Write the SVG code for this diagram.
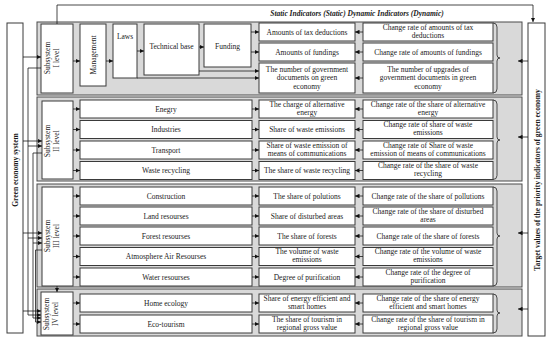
<svg xmlns="http://www.w3.org/2000/svg" width="550" height="342" viewBox="0 0 550 342">
<defs>
<marker id="ah" viewBox="0 0 6 6" refX="6" refY="3" markerWidth="4.5" markerHeight="4.5" orient="auto" markerUnits="userSpaceOnUse"><path d="M0,0 L6,3 L0,6 z" fill="#111"/></marker>
<style>
.frame{fill:#d9d9d9;stroke:#4a4a4a;stroke-width:1}
.box{fill:#fff;stroke:#3a3a3a;stroke-width:1}
.t{font-family:"Liberation Serif","DejaVu Serif",serif;font-size:7.5px;fill:#1a1a1a;text-anchor:middle}
.b{font-weight:bold}
.ln{stroke:#1a1a1a;stroke-width:0.8;fill:none}
.ar{stroke:#1a1a1a;stroke-width:0.8;fill:none;marker-end:url(#ah)}
.br{stroke:#3a3a3a;stroke-width:0.9;fill:none}
</style>
</defs>
<rect width="550" height="342" fill="#fff"/>

<g id="frames">
<rect class="frame" x="37" y="22" width="485" height="73"/>
<rect class="frame" x="37" y="97" width="485" height="84"/>
<rect class="frame" x="37" y="184" width="485" height="103"/>
<rect class="frame" x="37" y="289" width="485" height="47"/>
</g>

<text class="t b" x="357" y="16" font-style="italic">Static Indicators (Static) Dynamic Indicators (Dynamic)</text>

<g id="green"><rect class="box" x="7" y="23" width="16" height="310"/><text class="t b" transform="translate(18,170) rotate(-90)">Green economy system</text></g>
<g id="target"><rect class="box" x="528" y="23" width="17" height="313"/><text class="t b" transform="translate(539.5,180) rotate(-90)">Target values of the priority indicators of green economy</text></g>

<g id="sub1"><rect class="box" x="41" y="24" width="32" height="69"/><text class="t" transform="translate(50,58) rotate(-90)"><tspan x="0" dy="0">Subsystem</tspan><tspan x="0" dy="8.5">I level</tspan></text></g>
<g id="sub2"><rect class="box" x="42" y="101" width="31" height="78"/><text class="t" transform="translate(50,141) rotate(-90)"><tspan x="0" dy="0">Subsystem</tspan><tspan x="0" dy="8.5">II level</tspan></text></g>
<g id="sub3"><rect class="box" x="42" y="187" width="31" height="99"/><text class="t" transform="translate(50,236) rotate(-90)"><tspan x="0" dy="0">Subsystem</tspan><tspan x="0" dy="8.5">III level</tspan></text></g>
<g id="sub4"><rect class="box" x="41" y="292" width="32" height="43"/><text class="t" transform="translate(49,314) rotate(-90)"><tspan x="0" dy="0">Subsystem</tspan><tspan x="0" dy="8.5">IV level</tspan></text></g>

<g id="management"><rect class="box" x="80" y="24" width="26" height="62"/><text class="t" transform="translate(96,55) rotate(-90)">Management</text></g>
<g id="laws"><rect class="box" x="113" y="24" width="24" height="54"/><text class="t" x="125" y="39">Laws</text></g>
<g id="techbase"><rect class="box" x="144" y="24" width="55" height="51"/><text class="t" x="171.5" y="48.5">Technical base</text></g>
<g id="funding"><rect class="box" x="204" y="24" width="47" height="43"/><text class="t" x="227.5" y="48.5">Funding</text></g>

<g id="s1r1"><rect class="box" x="259" y="23" width="96" height="18"/><text class="t" x="307" y="34.5">Amounts of tax deductions</text></g>
<g id="d1r1"><rect class="box" x="363" y="23" width="130" height="18"/><text class="t" x="428" y="29.8">Change rate of amounts of tax<tspan x="428" dy="8">deductions</tspan></text></g>
<g id="s1r2"><rect class="box" x="259" y="43" width="96" height="18"/><text class="t" x="307" y="54.5">Amounts of fundings</text></g>
<g id="d1r2"><rect class="box" x="363" y="43" width="130" height="18"/><text class="t" x="428" y="54.5">Change rate of amounts of fundings</text></g>
<g id="s1r3"><rect class="box" x="259" y="63" width="96" height="30"/><text class="t" x="307" y="71.5">The number of government<tspan x="307" dy="8.6">documents on green</tspan><tspan x="307" dy="8.6">economy</tspan></text></g>
<g id="d1r3"><rect class="box" x="363" y="63" width="130" height="30"/><text class="t" x="428" y="71.5">The number of upgrades of<tspan x="428" dy="8.6">government documents in green</tspan><tspan x="428" dy="8.6">economy</tspan></text></g>

<g id="m2r1"><rect class="box" x="80" y="100" width="172" height="18"/><text class="t" x="166" y="111.5">Enegry</text></g>
<g id="m2r2"><rect class="box" x="80" y="120.5" width="172" height="18"/><text class="t" x="166" y="132">Industries</text></g>
<g id="m2r3"><rect class="box" x="80" y="141" width="172" height="18"/><text class="t" x="166" y="152.5">Transport</text></g>
<g id="m2r4"><rect class="box" x="80" y="161.5" width="172" height="18"/><text class="t" x="166" y="173">Waste recycling</text></g>
<g id="s2r1"><rect class="box" x="259" y="100" width="96" height="18"/><text class="t" x="307" y="106.8">The charge of alternative<tspan x="307" dy="8">energy</tspan></text></g>
<g id="s2r2"><rect class="box" x="259" y="120.5" width="96" height="18"/><text class="t" x="307" y="132">Share of waste emissions</text></g>
<g id="s2r3"><rect class="box" x="259" y="141" width="96" height="18"/><text class="t" x="307" y="147.8">Share of waste emission of<tspan x="307" dy="8">means of communications</tspan></text></g>
<g id="s2r4"><rect class="box" x="259" y="161.5" width="96" height="18"/><text class="t" x="307" y="173">The share of waste recycling</text></g>
<g id="d2r1"><rect class="box" x="363" y="100" width="130" height="18"/><text class="t" x="428" y="106.8">Change rate of the share of alternative<tspan x="428" dy="8">energy</tspan></text></g>
<g id="d2r2"><rect class="box" x="363" y="120.5" width="130" height="18"/><text class="t" x="428" y="127.3">Change rate of share of waste<tspan x="428" dy="8">emissions</tspan></text></g>
<g id="d2r3"><rect class="box" x="363" y="141" width="130" height="18"/><text class="t" x="428" y="147.8">Change rate of Share of waste<tspan x="428" dy="8">emission of means of communications</tspan></text></g>
<g id="d2r4"><rect class="box" x="363" y="161.5" width="130" height="18"/><text class="t" x="428" y="168.3">Change rate of the share of waste<tspan x="428" dy="8">recycling</tspan></text></g>

<g id="m3r1"><rect class="box" x="80" y="187" width="172" height="18"/><text class="t" x="166" y="198.5">Construction</text></g>
<g id="m3r2"><rect class="box" x="80" y="207" width="172" height="18"/><text class="t" x="166" y="218.5">Land resourses</text></g>
<g id="m3r3"><rect class="box" x="80" y="227" width="172" height="18"/><text class="t" x="166" y="238.5">Forest resourses</text></g>
<g id="m3r4"><rect class="box" x="80" y="247.5" width="172" height="18"/><text class="t" x="166" y="259">Atmosphere Air Resourses</text></g>
<g id="m3r5"><rect class="box" x="80" y="268" width="172" height="18"/><text class="t" x="166" y="279.5">Water resourses</text></g>
<g id="s3r1"><rect class="box" x="259" y="187" width="96" height="18"/><text class="t" x="307" y="198.5">The share of polutions</text></g>
<g id="s3r2"><rect class="box" x="259" y="207" width="96" height="18"/><text class="t" x="307" y="218.5">Share of disturbed areas</text></g>
<g id="s3r3"><rect class="box" x="259" y="227" width="96" height="18"/><text class="t" x="307" y="238.5">The share of forests</text></g>
<g id="s3r4"><rect class="box" x="259" y="247.5" width="96" height="18"/><text class="t" x="307" y="254.3">The volume of waste<tspan x="307" dy="8">emissions</tspan></text></g>
<g id="s3r5"><rect class="box" x="259" y="268" width="96" height="18"/><text class="t" x="307" y="279.5">Degree of purification</text></g>
<g id="d3r1"><rect class="box" x="363" y="187" width="130" height="18"/><text class="t" x="428" y="198.5">Change rate of the share of pollutions</text></g>
<g id="d3r2"><rect class="box" x="363" y="207" width="130" height="18"/><text class="t" x="428" y="213.8">Change rate of the share of disturbed<tspan x="428" dy="8">areas</tspan></text></g>
<g id="d3r3"><rect class="box" x="363" y="227" width="130" height="18"/><text class="t" x="428" y="238.5">Change rate of the share of forests</text></g>
<g id="d3r4"><rect class="box" x="363" y="247.5" width="130" height="18"/><text class="t" x="428" y="254.3">Change rate of the volume of waste<tspan x="428" dy="8">emissions</tspan></text></g>
<g id="d3r5"><rect class="box" x="363" y="268" width="130" height="18"/><text class="t" x="428" y="274.8">Change rate of the degree of<tspan x="428" dy="8">purification</tspan></text></g>

<g id="m4r1"><rect class="box" x="80" y="294" width="172" height="18"/><text class="t" x="166" y="305.5">Home ecology</text></g>
<g id="m4r2"><rect class="box" x="80" y="315" width="172" height="18"/><text class="t" x="166" y="326.5">Eco-tourism</text></g>
<g id="s4r1"><rect class="box" x="259" y="294" width="96" height="18"/><text class="t" x="307" y="300.8">Share of energy efficient and<tspan x="307" dy="8">smart homes</tspan></text></g>
<g id="s4r2"><rect class="box" x="259" y="315" width="96" height="18"/><text class="t" x="307" y="321.8">The share of tourism in<tspan x="307" dy="8">regional gross value</tspan></text></g>
<g id="d4r1"><rect class="box" x="363" y="294" width="130" height="18"/><text class="t" x="428" y="300.8">Change rate of the share of energy<tspan x="428" dy="8">efficient and smart homes</tspan></text></g>
<g id="d4r2"><rect class="box" x="363" y="315" width="130" height="18"/><text class="t" x="428" y="321.8">Change rate of the share of tourism in<tspan x="428" dy="8">regional gross value</tspan></text></g>

<g id="braces">
<path class="br" d="M493,23 Q497,23 497,27 L497,55 Q497,58 500,58 Q497,58 497,61 L497,89 Q497,93 493,93"/>
<path class="br" d="M493,100 Q497,100 497,104 L497,137 Q497,140 500,140 Q497,140 497,143 L497,175.5 Q497,179.5 493,179.5"/>
<path class="br" d="M493,187 Q497,187 497,191 L497,233 Q497,236 500,236 Q497,236 497,239 L497,282 Q497,286 493,286"/>
<path class="br" d="M493,294 Q497,294 497,298 L497,310 Q497,313 500,313 Q497,313 497,316 L497,329 Q497,333 493,333"/>
</g>

<g id="connectors">
<path class="ar" d="M57,24 V5 H533 V22"/>
<path class="ar" d="M73,61 H80"/>
<path class="ar" d="M106,61 H113"/>
<path class="ar" d="M137,51 H144"/>
<path class="ar" d="M199,47 H204"/>
<path class="ar" d="M251,32 H259"/>
<path class="ar" d="M251,52 H259"/>
<path class="ar" d="M199,71 H259"/>
<path class="ar" d="M137,78 H259"/>
<path class="ar" d="M363,32 H355"/>
<path class="ar" d="M363,52 H355"/>
<path class="ar" d="M363,78 H355"/>
<path class="ar" d="M73,109 H80"/><path class="ar" d="M73,129.5 H80"/><path class="ar" d="M73,150 H80"/><path class="ar" d="M73,170.5 H80"/>
<path class="ar" d="M252,109 H259"/><path class="ar" d="M252,129.5 H259"/><path class="ar" d="M252,150 H259"/><path class="ar" d="M252,170.5 H259"/>
<path class="ar" d="M363,109 H355"/><path class="ar" d="M363,129.5 H355"/><path class="ar" d="M363,150 H355"/><path class="ar" d="M363,170.5 H355"/>
<path class="ar" d="M73,196 H80"/><path class="ar" d="M73,216 H80"/><path class="ar" d="M73,236 H80"/><path class="ar" d="M73,256.5 H80"/><path class="ar" d="M73,277 H80"/>
<path class="ar" d="M252,196 H259"/><path class="ar" d="M252,216 H259"/><path class="ar" d="M252,236 H259"/><path class="ar" d="M252,256.5 H259"/><path class="ar" d="M252,277 H259"/>
<path class="ar" d="M363,196 H355"/><path class="ar" d="M363,216 H355"/><path class="ar" d="M363,236 H355"/><path class="ar" d="M363,256.5 H355"/><path class="ar" d="M363,277 H355"/>
<path class="ar" d="M73,303 H80"/><path class="ar" d="M73,324 H80"/>
<path class="ar" d="M252,303 H259"/><path class="ar" d="M252,324 H259"/>
<path class="ar" d="M363,303 H355"/><path class="ar" d="M363,324 H355"/>
<path class="ar" d="M57,286 V292"/>
<path class="ar" d="M528,61 H518"/>
<path class="ar" d="M528,137 H518"/>
<path class="ar" d="M528,233 H518"/>
<path class="ar" d="M528,309 H518"/>
<path class="ar" d="M23,57 H41"/>
<path class="ln" d="M41,68 H28 V315"/>
<path class="ln" d="M42,153 H33 V318"/>
<path class="ln" d="M42,250 H35.5 V322"/>
<path class="ar" d="M23,141 H42"/>
<path class="ar" d="M28,146 H42"/>
<path class="ar" d="M23,233 H42"/>
<path class="ar" d="M28,238 H42"/>
<path class="ar" d="M33,243 H42"/>
<path class="ar" d="M23,311 H41"/>
<path class="ar" d="M28,315 H41"/>
<path class="ar" d="M33,318 H41"/>
<path class="ar" d="M35.5,322 H41"/>
</g>
</svg>
